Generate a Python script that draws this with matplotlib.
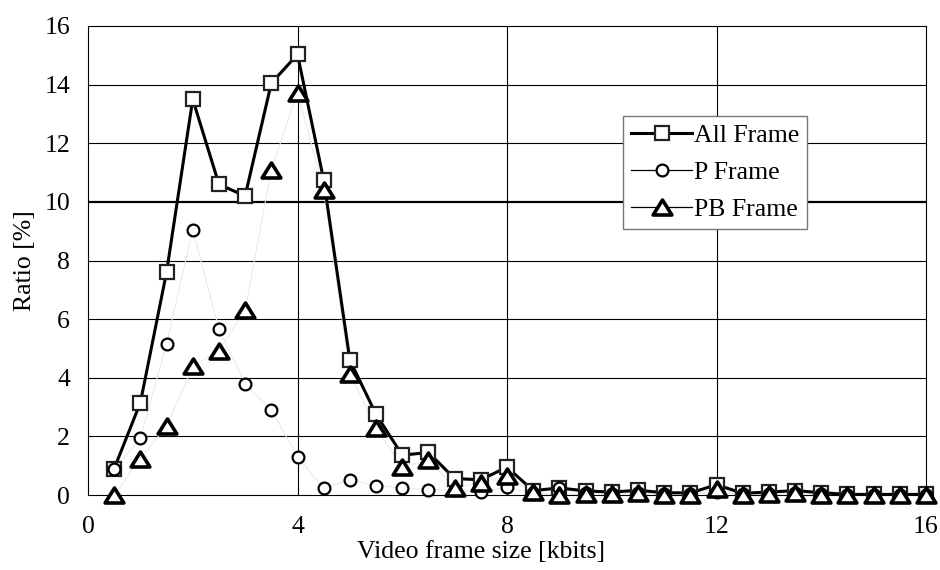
import matplotlib
matplotlib.use("Agg")
import matplotlib.pyplot as plt
from matplotlib.lines import Line2D
from matplotlib.path import Path

# ---- data ----
frame_size = [0.5, 1, 1.5, 2, 2.5, 3, 3.5, 4, 4.5, 5, 5.5, 6, 6.5, 7, 7.5, 8,
              8.5, 9, 9.5, 10, 10.5, 11, 11.5, 12, 12.5, 13, 13.5, 14, 14.5, 15, 15.5, 16]
all_frame = [0.9, 3.15, 7.6, 13.5, 10.6, 10.2, 14.05, 15.03, 10.75, 4.6, 2.75, 1.36, 1.45, 0.56, 0.52, 0.95,
             0.15, 0.24, 0.14, 0.1, 0.16, 0.08, 0.07, 0.35, 0.06, 0.1, 0.15, 0.08, 0.02, 0.02, 0.02, 0.02]
p_frame = [0.9, 1.93, 5.16, 9.05, 5.66, 3.79, 2.91, 1.3, 0.24, 0.5, 0.32, 0.24, 0.18, 0.18, 0.09, 0.26,
           0.08, 0.24, 0.08, 0.05, 0.08, 0.03, 0.03, 0.1, 0.02, 0.03, 0.08, 0.03, 0.0, 0.0, 0.0, 0.0]
pb_frame = [0.0, 1.24, 2.35, 4.39, 4.92, 6.3, 11.09, 13.73, 10.39, 4.14, 2.27, 0.95, 1.2, 0.24, 0.41, 0.66,
            0.09, 0.0, 0.05, 0.02, 0.07, 0.0, 0.0, 0.22, 0.0, 0.02, 0.07, 0.0, 0.0, 0.0, 0.0, 0.0]
labels = ["All Frame", "P Frame", "PB Frame"]
x_ticks = [0, 4, 8, 12, 16]
y_ticks = [0, 2, 4, 6, 8, 10, 12, 14, 16]

plt.rcParams['font.family'] = ['Liberation Serif', 'DejaVu Serif']
FS = 18.5

fig = plt.figure(figsize=(9.4, 5.7), dpi=100)
ax = fig.add_axes([88/940, 1-495/570, (926-88)/940, (495-26)/570])

tri = Path([(-1, -0.8), (1, -0.8), (0, 0.8), (-1, -0.8)],
           [Path.MOVETO, Path.LINETO, Path.LINETO, Path.CLOSEPOLY])

# faint connecting lines for P and PB
ax.plot(frame_size, p_frame, color='#ebebeb', lw=0.8, zorder=2)
ax.plot(frame_size, pb_frame, color='#ebebeb', lw=0.8, zorder=2)
# All frame
ax.plot(frame_size, all_frame, color='black', lw=2.2, marker='s', ms=9.5,
        mfc='white', mec='#222222', mew=1.6, zorder=3, clip_on=False)
ax.plot(frame_size, p_frame, ls='none', marker='o', ms=8.5,
        mfc='white', mec='black', mew=1.6, zorder=4, clip_on=False)
ax.plot(frame_size, pb_frame, ls='none', marker=tri, ms=13.5,
        mfc='white', mec='black', mew=2.6, zorder=5, clip_on=False)

ax.set_xlim(0, 16)
ax.set_ylim(0, 16)
ax.set_xticks(x_ticks)
ax.set_yticks(y_ticks)
ax.tick_params(length=0, labelsize=FS)
ax.tick_params(axis='x', pad=15)
ax.tick_params(axis='y', pad=13)

for v in x_ticks[1:-1]:
    ax.axvline(v, color='black', lw=0.8, zorder=1)
for v in y_ticks[1:-1]:
    ax.axhline(v, color='black', lw=1.6 if v == 10 else 0.8, zorder=1)
for s in ax.spines.values():
    s.set_linewidth(0.8)

ax.set_xlabel("Video frame size [kbits]", fontsize=FS, va='top')
ax.xaxis.set_label_coords((481-88)/838, (495-541)/469)
ax.set_ylabel("Ratio [%]", fontsize=FS, labelpad=6)

handles = [
    Line2D([], [], color='black', lw=2.2, marker='s', ms=9.5, mfc='white', mec='#222222', mew=1.6),
    Line2D([], [], color='black', lw=0.9, marker='o', ms=8.5, mfc='white', mec='black', mew=1.6),
    Line2D([], [], color='black', lw=0.9, marker=tri, ms=13.5, mfc='white', mec='black', mew=2.6),
]
leg = ax.legend(handles, labels, loc='upper left', bbox_to_anchor=((623-88)/838, (495-116)/469),
                fontsize=FS, frameon=True, fancybox=False, framealpha=1, edgecolor='#777777',
                handlelength=2.4, handletextpad=0.05, labelspacing=0.55, borderpad=0.3,
                borderaxespad=0, markerscale=1.0)
leg.get_frame().set_linewidth(1.0)
leg.set_zorder(10)

fig.savefig("out.png", dpi=100)
